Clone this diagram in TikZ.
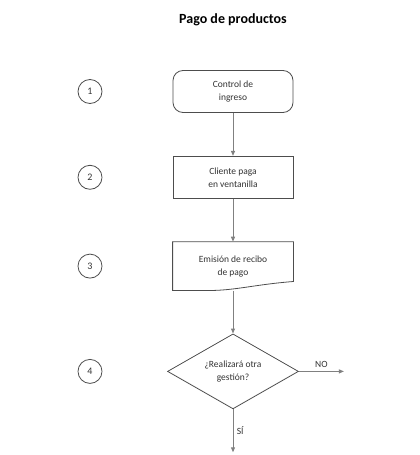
\documentclass[tikz,border=0pt]{standalone}
\usepackage{fontspec}
\setmainfont{Carlito}
\usetikzlibrary{arrows.meta,shapes,positioning,calc}
\usepackage{xcolor}
\definecolor{linegray}{RGB}{77,77,77}
\definecolor{arrowgray}{RGB}{128,128,128}
\definecolor{textgray}{RGB}{51,51,51}
\tikzset{
	proc/.style={
		rectangle,
		draw=linegray,
		line width=0.8pt,
		minimum width=120pt,
		minimum height=42pt,
		align=center,
		text=textgray,
		font=\fontsize{9.5}{13}\selectfont,
	},
	term/.style={
		proc,
		rounded corners=10pt,
	},
	docbox/.style={
		proc,
		draw=none,
		minimum height=48pt,
	},
	docline/.style={
		draw=linegray,
		line width=0.8pt,
	},
	decision/.style={
		diamond,
		aspect=1.75,
		draw=linegray,
		line width=0.8pt,
		minimum width=131pt,
		minimum height=75pt,
		inner sep=0pt,
		align=center,
		text=textgray,
		font=\fontsize{9.5}{13}\selectfont,
	},
	stepnum/.style={
		circle,
		draw=linegray,
		line width=0.8pt,
		minimum size=24pt,
		inner sep=0pt,
		text=textgray,
		font=\fontsize{10}{12}\selectfont,
	},
	flow/.style={
		-{Triangle[length=5pt,width=4pt]},
		draw=arrowgray,
		line width=1pt,
	},
	flowlabel/.style={
		text=textgray,
		font=\fontsize{9.5}{11}\selectfont,
	},
}
\begin{document}
\begin{tikzpicture}[x=1pt,y=1pt,node distance=43pt]
\useasboundingbox (0,0) rectangle (420,-455);

\node[font=\bfseries\fontsize{14}{16}\selectfont,text=black] (title) at (233,-20) {Pago de productos};

\node[term] (ctrl) at (233,-91.5) {Control de\\ingreso};
\node[proc] (pay) [below=of ctrl] {Cliente paga\\en ventanilla};
\node[docbox] (rcpt) [below=of pay] {Emisión de recibo\\de pago};
\node[decision] (ask) [below=of rcpt] {¿Realizará otra\\gestión?};
\coordinate (no) at ($(ask.east)+(45,0)$);
\coordinate (yes) at ($(ask.south)+(0,-43)$);

% document outline with wavy bottom
\draw[docline] 
  (rcpt.south west) 
  -- (rcpt.north west) 
  -- (rcpt.north east) 
  -- ($(rcpt.south east)+(0,9)$) 
  .. controls ($(rcpt.south)+(22,6)$) and ($(rcpt.south)+(2,0)$) .. ($(rcpt.south)+(-24,0)$) 
  -- cycle;

% step numbers
\coordinate (col) at (90,0);
\node[stepnum] (s1) at (col |- ctrl) {1};
\node[stepnum] (s2) at (col |- pay) {2};
\node[stepnum] (s3) at (col |- rcpt) {3};
\node[stepnum] (s4) at (col |- ask) {4};

\draw[flow] (ctrl) -- (pay);
\draw[flow] (pay) -- (rcpt);
\draw[flow] (rcpt) -- (ask);

\draw[flow] 
  (ask) 
  -- 
  node[above,flowlabel]{NO} 
  (no);

\draw[flow] 
  (ask) 
  -- 
  node[right,flowlabel]{SÍ} 
  (yes);

\end{tikzpicture}
\end{document}
